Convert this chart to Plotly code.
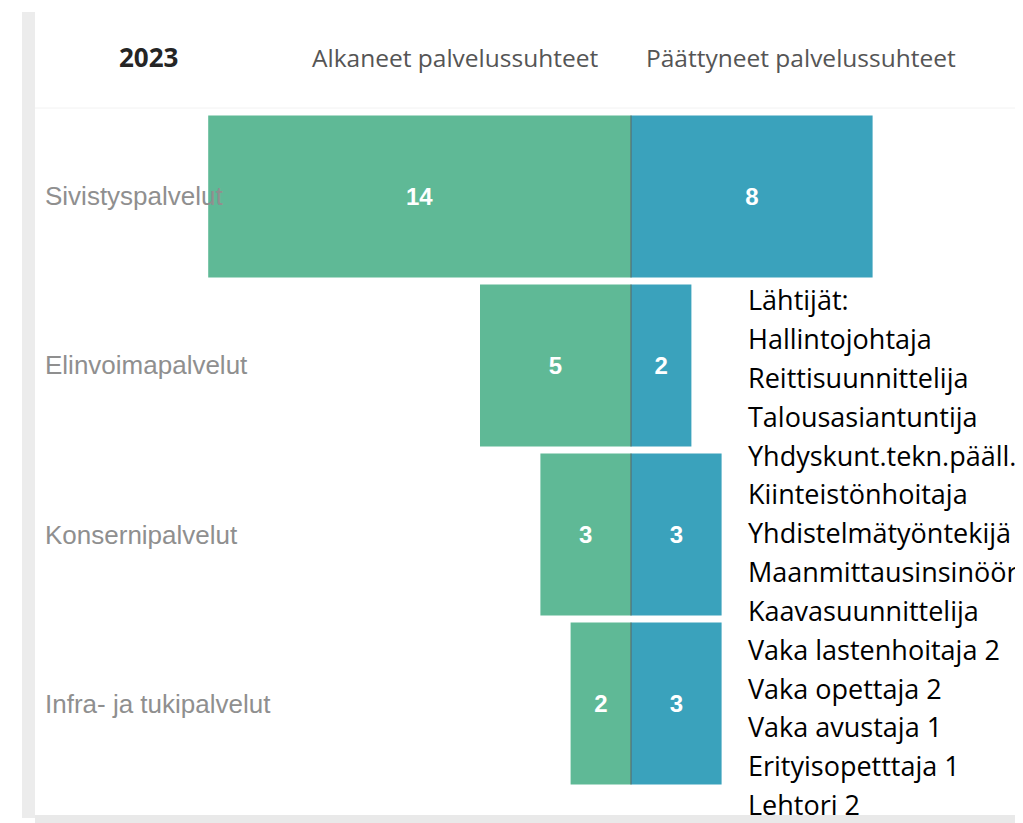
import plotly.graph_objects as go

# data
palvelut = ["Sivistyspalvelut", "Elinvoimapalvelut", "Konsernipalvelut", "Infra- ja tukipalvelut"]
alkaneet = [14, 5, 3, 2]
paattyneet = [8, 2, 3, 3]
otsikot = ["2023", "Alkaneet palvelussuhteet", "Päättyneet palvelussuhteet"]
lahtijat = [
    "Lähtijät:",
    "Hallintojohtaja",
    "Reittisuunnittelija",
    "Talousasiantuntija",
    "Yhdyskunt.tekn.pääll.",
    "Kiinteistönhoitaja",
    "Yhdistelmätyöntekijä",
    "Maanmittausinsinööri",
    "Kaavasuunnittelija",
    "Vaka lastenhoitaja 2",
    "Vaka opettaja 2",
    "Vaka avustaja 1",
    "Erityisopetttaja 1",
    "Lehtori 2",
]

W, H = 1023, 823
OFF = 8  # page body margin
GREEN = "#5fb996"
BLUE = "#3aa2bc"


def px(x):
    return (x - OFF) / W


def py(y):
    return 1 - (y - OFF) / H


fig = go.Figure()

value_font = dict(family="Liberation Sans, Arial", size=24, color="white")

fig.add_trace(go.Bar(
    y=palvelut,
    x=[-v for v in alkaneet],
    orientation="h",
    marker=dict(color=GREEN, line=dict(width=0)),
    text=[f"<b>{v}</b>" for v in alkaneet],
    textposition="inside",
    insidetextanchor="middle",
    textfont=value_font,
    hoverinfo="skip",
))

fig.add_trace(go.Bar(
    y=palvelut,
    x=paattyneet,
    orientation="h",
    marker=dict(color=BLUE, line=dict(width=0)),
    text=[f"<b>{v}</b>" for v in paattyneet],
    textposition="inside",
    insidetextanchor="middle",
    textfont=value_font,
    hoverinfo="skip",
))

shapes = []
# divider between the two sides of each row
for i in range(len(palvelut)):
    shapes.append(dict(type="line", xref="x", yref="y", x0=0, x1=0,
                       y0=i - 0.48, y1=i + 0.48,
                       line=dict(color="rgba(90,100,100,0.5)", width=2)))
# frame bits
shapes.append(dict(type="rect", xref="paper", yref="paper",
                   x0=px(22), x1=px(35), y0=py(818), y1=py(12),
                   fillcolor="#ececec", line=dict(width=0), layer="below"))
shapes.append(dict(type="rect", xref="paper", yref="paper",
                   x0=px(35), x1=1, y0=py(823), y1=py(815),
                   fillcolor="#e9e9e9", line=dict(width=0), layer="below"))
shapes.append(dict(type="line", xref="paper", yref="paper",
                   x0=px(35), x1=1, y0=py(108), y1=py(108),
                   line=dict(color="#f2f2f2", width=1), layer="below"))

annotations = []
for name in palvelut:
    annotations.append(dict(x=px(43), xref="paper", y=name, yref="y",
                            text=name, showarrow=False, xanchor="left", yanchor="middle",
                            font=dict(family="Liberation Sans, Arial", size=26, color="#8f8f8f")))

header_x = [148, 455, 801]
for t, hx in zip(otsikot, header_x):
    bold = t == "2023"
    annotations.append(dict(x=px(hx), xref="paper", y=py(57), yref="paper",
                            text=f"<b>{t}</b>" if bold else t, showarrow=False,
                            xanchor="center", yanchor="middle",
                            font=dict(family="Open Sans", size=26 if bold else 24.5,
                                      color="#252525" if bold else "#555555")))

for i, line in enumerate(lahtijat):
    annotations.append(dict(x=px(746), xref="paper", y=py(300 + i * 38.8), yref="paper",
                            text=line, showarrow=False, xanchor="left", yanchor="middle",
                            font=dict(family="Open Sans", size=27, color="black")))

fig.update_layout(
    width=W, height=H,
    margin=dict(l=0, r=0, t=0, b=0),
    paper_bgcolor="white",
    plot_bgcolor="white",
    barmode="overlay",
    bargap=0.04,
    showlegend=False,
    xaxis=dict(range=[-(631 - OFF) / 30.2, (W + OFF - 631) / 30.2], domain=[0, 1],
               visible=False, fixedrange=True),
    yaxis=dict(range=[3.5, -0.5], domain=[py(788), py(112)], visible=False, fixedrange=True),
    shapes=shapes,
    annotations=annotations,
)

fig.write_html("out.html")
